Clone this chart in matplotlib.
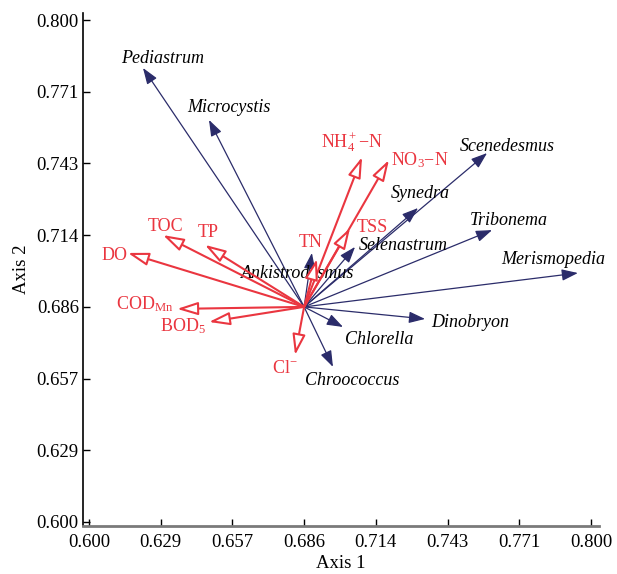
import matplotlib
matplotlib.use("Agg")
import matplotlib.pyplot as plt
import numpy as np

plt.rcParams['font.family'] = ['Liberation Serif', 'DejaVu Serif']
plt.rcParams['mathtext.fontset'] = 'custom'
plt.rcParams['mathtext.rm'] = 'Liberation Serif'
plt.rcParams['mathtext.it'] = 'Liberation Serif:italic'

# ---- data ----
origin = (0.6857, 0.6857)

species = ['Pediastrum', 'Microcystis', 'Scenedesmus', 'Synedra', 'Tribonema',
           'Merismopedia', 'Selenastrum', 'Ankistrodesmus', 'Dinobryon',
           'Chlorella', 'Chroococcus']
species_x = [0.6215, 0.6478, 0.7586, 0.7311, 0.7606, 0.7948, 0.7060, 0.6888,
             0.7339, 0.7012, 0.6972]
species_y = [0.7809, 0.7602, 0.7470, 0.7251, 0.7163, 0.6992, 0.7096, 0.7072,
             0.6809, 0.6777, 0.6618]

env = [r'NH$_4^+$$-$N', r'NO$_3$$-$N', 'TSS', 'TN', 'TOC', 'TP', 'DO',
       r'COD$_{\mathrm{Mn}}$', r'BOD$_5$', r'Cl$^{-}$']
env_x = [0.7088, 0.7195, 0.7040, 0.6908, 0.6295, 0.6462, 0.6155, 0.6351,
         0.6478, 0.6821]
env_y = [0.7454, 0.7442, 0.7171, 0.7048, 0.7143, 0.7104, 0.7072, 0.6849,
         0.6797, 0.6665]

ticks = np.linspace(0.6, 0.8, 8)
tick_labels = ['%.3f' % t for t in ticks]

# ---- layout (label offsets in pixels) ----
species_off = [(20, 9), (20, 12), (20, 7), (2, 15), (17, 10), (-25, 14),
               (48, 1), (-14, -21), (45, -4), (36, -13), (19, -14)]
env_off = [(-10, 15), (31, 0), (22, 1), (-6, 16), (2, 9), (3, 12), (-13, -3),
           (-32, 5), (-26, -4), (-10, -13)]

navy = '#2b2c6a'
red = '#ea3640'

fig = plt.figure(figsize=(6.17, 5.74), dpi=100)
ax = fig.add_axes([83 / 617, 48 / 574, 516 / 617, 513 / 574])
ax.set_xlim(0.5976, 0.8032)
ax.set_ylim(0.5984, 0.8028)

for name, x, y, off in zip(species, species_x, species_y, species_off):
    ax.annotate('', xy=(x, y), xytext=origin,
                arrowprops=dict(arrowstyle='-|>,head_length=0.7,head_width=0.25',
                                color=navy, lw=0.9, shrinkA=0, shrinkB=0,
                                mutation_scale=14))
    ax.annotate(name, xy=(x, y), xytext=off, textcoords='offset pixels',
                ha='center', va='center', fontsize=13, style='italic',
                color='black')

for name, x, y, off in zip(env, env_x, env_y, env_off):
    ax.annotate('', xy=(x, y), xytext=origin,
                arrowprops=dict(arrowstyle='-|>,head_length=0.9,head_width=0.28',
                                fc='white', ec=red, lw=1.5, shrinkA=0, shrinkB=0,
                                mutation_scale=14))
    ax.annotate(name, xy=(x, y), xytext=off, textcoords='offset pixels',
                ha='center', va='center', fontsize=13, color=red)

ax.set_xticks(ticks)
ax.set_xticklabels(tick_labels)
ax.set_yticks(ticks)
ax.set_yticklabels(tick_labels)
ax.tick_params(axis='both', direction='in', length=5, width=1, labelsize=13.5,
               colors='black')
ax.tick_params(axis='x', pad=6)
ax.tick_params(axis='y', pad=3)
for s in ['top', 'right']:
    ax.spines[s].set_visible(False)
ax.spines['left'].set_linewidth(1.2)
ax.spines['left'].set_color('black')
ax.spines['bottom'].set_linewidth(2)
ax.spines['bottom'].set_color('#7a7a7a')
ax.set_xlabel('Axis 1', fontsize=13.5, labelpad=3)
ax.set_ylabel('Axis 2', fontsize=13.5, labelpad=5)

fig.savefig('out.png', dpi=100)
